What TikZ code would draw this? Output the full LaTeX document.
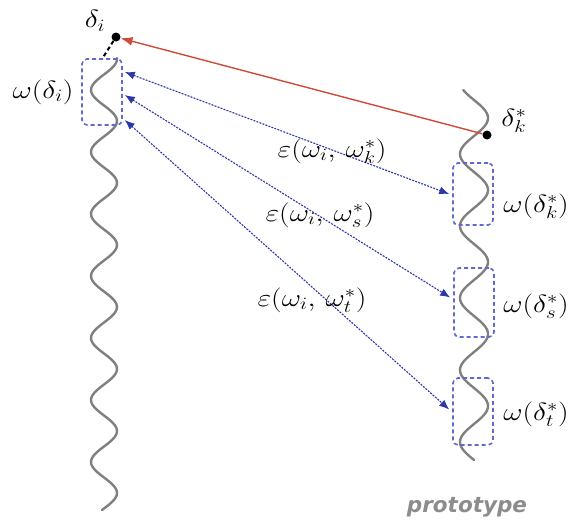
\documentclass[tikz,border=0pt]{standalone}
\usepackage{fontspec}
\newfontfamily\protofont{DejaVu Sans}
\usetikzlibrary{arrows.meta,calc}
\definecolor{wavegray}{RGB}{128,128,128}
\definecolor{protogray}{RGB}{140,140,140}
\definecolor{boxblue}{RGB}{95,105,210}
\definecolor{arrblue}{RGB}{45,55,170}
\definecolor{arrred}{RGB}{205,75,55}
\newcommand{\wlbl}[1]{\scalebox{1.2}[1]{$#1$}}
\tikzset{
  wave/.style={wavegray, line width=2.4pt, line cap=round},
  winbox/.style={draw=boxblue, line width=1.6pt, rounded corners=5pt, minimum width=40pt, inner sep=0pt, dash pattern=on 4pt off 3pt},
  distarrow/.style={arrblue, line width=1.1pt, dash pattern=on 2pt off 1.2pt, {Latex[length=10pt,width=8pt]}-{Latex[length=10pt,width=8pt]}},
  redarrow/.style={arrred, line width=1.4pt, -{Latex[length=12pt,width=9pt]}},
  lbl/.style={font=\fontsize{23}{27}\selectfont, inner sep=0pt},
  dotnode/.style={circle, fill=black, inner sep=0pt, minimum size=9pt}
}
\begin{document}
\begin{tikzpicture}[x=1pt,y=-1pt]
\useasboundingbox (0,0) rectangle (569,522);
% waves
\draw[wave] plot[domain=58:510, samples=220, smooth] ({104+13*cos(5.80645*(\x-183))}, \x);
\draw[wave] plot[domain=90:460, samples=220, smooth] ({474+14*cos(5*(\x-190))}, \x);
% points
\node[dotnode] (di) at (116,37) {};
\node[dotnode] (dk) at (487,135) {};
\coordinate (wtop) at (102,59);
\draw[black, line width=2pt, dash pattern=on 4pt off 3pt] (di) -- (wtop);
% boxes
\node[winbox, minimum height=66pt] (bi) at (102,92) {};
\node[winbox, minimum height=62pt] (bk) at (473,194) {};
\node[winbox, minimum height=69pt] (bs) at (474,302.5) {};
\node[winbox, minimum height=67pt] (bt) at (473,411.5) {};
% arrow end points
\coordinate (ai1) at ($(bi.east)+(2,-20)$);
\coordinate (ai2) at ($(bi.east)+(2,3)$);
\coordinate (ai3) at ($(bi.east)+(2,28)$);
\coordinate (ak) at ($(bk.west)+(-3,0)$);
\coordinate (as) at ($(bs.west)+(-3,-5)$);
\coordinate (atend) at ($(bt.west)+(-3,-2)$);
% red arrow
\draw[redarrow] (dk) -- (di);
% blue distance arrows
\draw[distarrow] (ai1) -- (ak);
\draw[distarrow] (ai2) -- (as);
\draw[distarrow] (ai3) -- (atend);
% labels
\node[lbl] (ldi) at (95,21) {\wlbl{\delta_i}};
\node[lbl] (lwi) at (43,92) {\wlbl{\omega(\delta_i)}};
\node[lbl] (ldk) at (514,121) {\wlbl{\delta_k^*}};
\node[lbl] (lwk) at (536,206) {\wlbl{\omega(\delta_k^*)}};
\node[lbl] (lws) at (536,306) {\wlbl{\omega(\delta_s^*)}};
\node[lbl] (lwt) at (536,414) {\wlbl{\omega(\delta_t^*)}};
\node[lbl] (e1) at (332,151) {\wlbl{\varepsilon(\omega_i,\,\omega_k^*)}};
\node[lbl] (e2) at (320,215) {\wlbl{\varepsilon(\omega_i,\,\omega_s^*)}};
\node[lbl] (e3) at (312,300) {\wlbl{\varepsilon(\omega_i,\,\omega_t^*)}};
\node[font=\protofont\bfseries\itshape\fontsize{21.5}{25}\selectfont, text=protogray] (proto) at (467,507) {prototype};
\end{tikzpicture}
\end{document}
